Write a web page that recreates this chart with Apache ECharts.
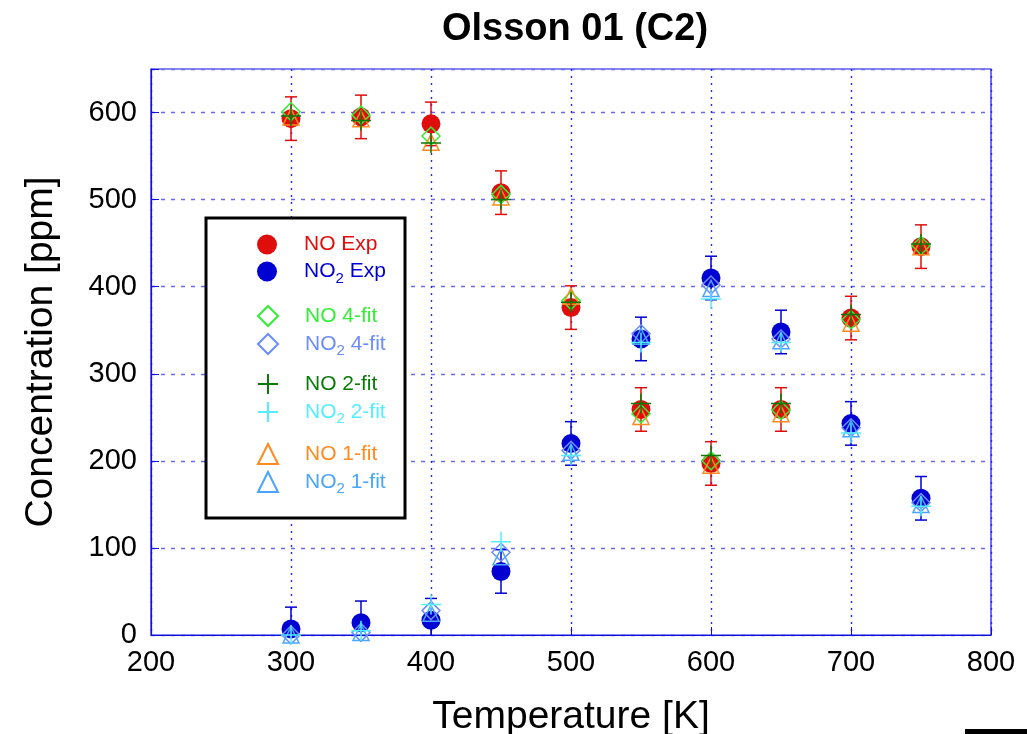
<!DOCTYPE html>
<html lang="en">
<head>
    <meta charset="UTF-8"/>
    <title>Olsson 01 (C2)</title>
    <script src="https://cdn.jsdelivr.net/npm/echarts@6/dist/echarts.min.js"></script>
    <style>
        html, body { margin: 0; padding: 0; background: #fff; }
        #main { width: 1027px; height: 734px; }
    </style>
</head>
<body>
<div id="main"></div>
<script type="text/javascript">

    // temperatures [K]
    var temps = [300, 350, 400, 450, 500, 550, 600, 650, 700, 750];

    // measured values [ppm], error bar half width 25 ppm
    var noExp  = [593, 595, 587, 508, 376, 259, 197, 259, 364, 446];
    var no2Exp = [7, 14, 17, 73, 220, 340, 410, 348, 243, 157];
    var expErr = [25, 25, 25, 25, 25, 25, 25, 25, 25, 25];

    // fits
    var no4fit  = [601, 597, 573, 506, 384, 254, 200, 258, 362, 447];
    var no2_4fit = [0, 3, 28, 95, 212, 346, 402, 340, 238, 152];
    var no2fit  = [596, 591, 565, 500, 382, 266, 206, 266, 368, 449];
    var no2_2fit = [0, 5, 35, 107, 206, 336, 386, 336, 232, 148];
    var no1fit  = [595, 593, 566, 503, 389, 251, 195, 254, 358, 446];
    var no2_1fit = [0, 3, 25, 90, 210, 343, 398, 338, 237, 150];

    var xTicks = [200, 300, 400, 500, 600, 700, 800];
    var yTicks = [0, 100, 200, 300, 400, 500, 600];

    function pairs(ys) {
        return temps.map(function (t, i) { return [t, ys[i]]; });
    }

    function errData(ys) {
        return temps.map(function (t, i) { return [t, ys[i], expErr[i]]; });
    }

    function errSeries(ys, color) {
        return {
            type: 'custom',
            data: errData(ys),
            clip: true,
            z: 1,
            renderItem: function (params, api) {
                var x = api.value(0), y = api.value(1), e = api.value(2);
                var top = api.coord([x, y + e]);
                var bot = api.coord([x, y - e]);
                var cap = 6;
                var st = { stroke: color, lineWidth: 1.5 };
                return {
                    type: 'group',
                    children: [
                        { type: 'line', shape: { x1: top[0], y1: top[1], x2: bot[0], y2: bot[1] }, style: st },
                        { type: 'line', shape: { x1: top[0] - cap, y1: top[1], x2: top[0] + cap, y2: top[1] }, style: st },
                        { type: 'line', shape: { x1: bot[0] - cap, y1: bot[1], x2: bot[0] + cap, y2: bot[1] }, style: st }
                    ]
                };
            }
        };
    }

    var plusPath = 'path://M10,0 L10,20 M0,10 L20,10';

    function markSeries(name, ys, symbol, size, color, filled) {
        return {
            name: name,
            type: 'scatter',
            data: pairs(ys),
            symbol: symbol,
            symbolSize: size,
            z: 3,
            itemStyle: filled
                ? { color: color, opacity: 1 }
                : { color: 'rgba(255,255,255,0)', borderColor: color, borderWidth: 1.5, opacity: 1 }
        };
    }

    var cRed = '#e00d0d', cBlue = '#0000d2', cGreen = '#33ee33', cBlue4 = '#6b8cff',
        cDGreen = '#0a7a0a', cCyan = '#55eeff', cOrange = '#ff8a1f', cSky = '#4aa5ff';
    var cAxis = '#1010e0';

    var myChart = echarts.init(document.getElementById('main'));

    var legendText = { fontFamily: 'Liberation Sans', fontSize: 21, padding: [0, 0, 0, 22],
        rich: { sub: { fontSize: 15, padding: [14, 0, 0, 0] } } };

    function legendBlock(top, items) {
        return {
            orient: 'vertical',
            left: 252,
            top: top,
            itemWidth: 20,
            itemHeight: 20,
            itemGap: 6,
            z: 6,
            selectedMode: false,
            textStyle: legendText,
            formatter: function (n) { return n.replace('NO2', 'NO{sub|2}'); },
            data: items.map(function (it) { return { name: it[0], textStyle: { color: it[1] } }; })
        };
    }

    var option = {
        backgroundColor: '#fff',
        animation: false,
        title: {
            text: 'Olsson 01 (C2)',
            left: 570,
            textAlign: 'center',
            top: 6,
            textStyle: { fontFamily: 'Liberation Sans', fontSize: 38, fontWeight: 'bold', color: '#000' }
        },
        grid: {
            left: 151, right: 36, top: 69, bottom: 99,
            outerBoundsMode: 'none',
            containLabel: false,
            show: true, borderColor: cAxis, borderWidth: 1.2
        },
        graphic: [
            { type: 'rect', shape: { x: 206, y: 218, width: 199, height: 300 },
              style: { fill: '#fff', stroke: '#000', lineWidth: 3 }, z: 5 },
            { type: 'rect', shape: { x: 965, y: 729, width: 62, height: 5 }, style: { fill: '#000' } }
        ],
        legend: [
            legendBlock(229, [['NO Exp', cRed], ['NO2 Exp', cBlue]]),
            legendBlock(300, [['NO 4-fit', cGreen], ['NO2 4-fit', cBlue4]]),
            legendBlock(368, [['NO 2-fit', cDGreen], ['NO2 2-fit', cCyan]]),
            legendBlock(438, [['NO 1-fit', cOrange], ['NO2 1-fit', cSky]])
        ],
        xAxis: {
            type: 'value',
            min: 200, max: 800, interval: 100,
            name: 'Temperature [K]',
            nameLocation: 'middle',
            nameGap: 63,
            nameTextStyle: { fontFamily: 'Liberation Sans', fontSize: 39, color: '#000' },
            axisLine: { show: true, lineStyle: { color: cAxis, width: 1.2 } },
            axisTick: { show: true, inside: true, length: 8, lineStyle: { color: cAxis } },
            axisLabel: { fontFamily: 'Liberation Sans', fontSize: 29, color: '#000', margin: 13,
                formatter: function (v) { return xTicks.indexOf(v) >= 0 ? String(v) : ''; } },
            splitLine: { show: true, lineStyle: { color: '#2626ff', type: [2, 5], width: 1.4 } }
        },
        yAxis: {
            type: 'value',
            min: 0, max: 650, interval: 100,
            name: 'Concentration [ppm]',
            nameLocation: 'middle',
            nameGap: 90,
            nameTextStyle: { fontFamily: 'Liberation Sans', fontSize: 39, color: '#000' },
            axisLine: { show: true, lineStyle: { color: cAxis, width: 1.2 } },
            axisTick: { show: true, inside: true, length: 8, lineStyle: { color: cAxis } },
            axisLabel: { fontFamily: 'Liberation Sans', fontSize: 29, color: '#000', margin: 14,
                formatter: function (v) { return yTicks.indexOf(v) >= 0 ? String(v) : ''; } },
            splitLine: { show: true, lineStyle: { color: '#6a6af0', type: [4, 6], width: 1.4 } }
        },
        series: [
            errSeries(noExp, cRed),
            errSeries(no2Exp, cBlue),
            markSeries('NO Exp', noExp, 'circle', 19, cRed, true),
            markSeries('NO2 Exp', no2Exp, 'circle', 19, cBlue, true),
            markSeries('NO 4-fit', no4fit, 'diamond', 18, cGreen, false),
            markSeries('NO2 4-fit', no2_4fit, 'diamond', 18, cBlue4, false),
            markSeries('NO 1-fit', no1fit, 'triangle', 16, cOrange, false),
            markSeries('NO2 1-fit', no2_1fit, 'triangle', 16, cSky, false),
            markSeries('NO 2-fit', no2fit, plusPath, 20, cDGreen, false),
            markSeries('NO2 2-fit', no2_2fit, plusPath, 20, cCyan, false)
        ]
    };

    myChart.setOption(option);
</script>
</body>
</html>
